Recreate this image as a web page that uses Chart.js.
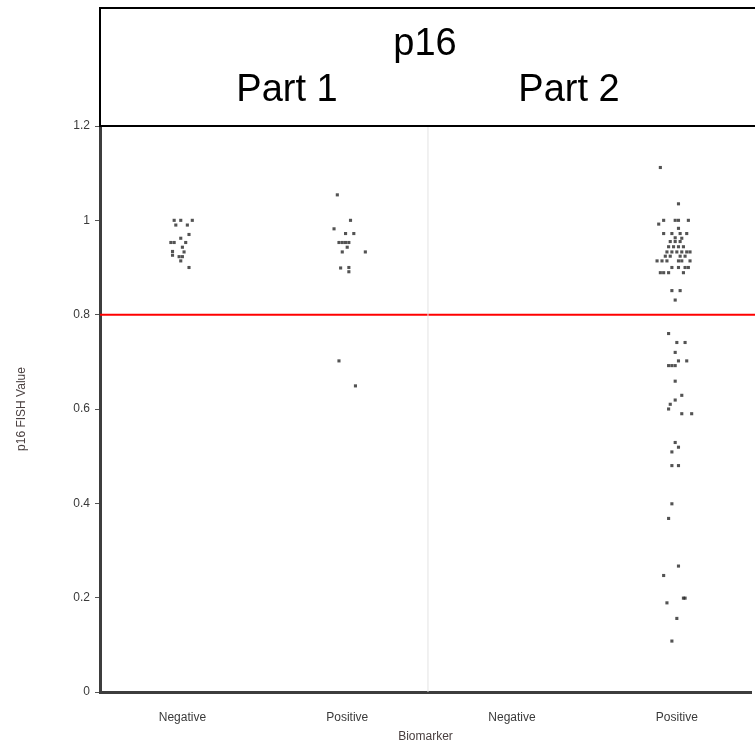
<!DOCTYPE html>
<html lang="en">
<head>
  <meta charset="UTF-8">
  <title>p16 FISH Value</title>
  <script src="https://cdn.jsdelivr.net/npm/chart.js"></script>
  <style>
    body {
      margin: 0;
      padding: 0;
      background: #fff;
      overflow: hidden;
    }
    canvas {
      display: block;
    }
  </style>
</head>
<body>
  <canvas id="fishChart" width="755" height="744"></canvas>
  <script>
    // categories along the x axis (two panels, two groups each)
    const xLabels = ["Negative", "Positive", "Negative", "Positive"];
    const xCenters = [1, 2, 3, 4];
    const yTicks = [0, 0.2, 0.4, 0.6, 0.8, 1, 1.2];
    const cutoff = 0.8;
    const panelBreak = 2.49;

    // jitter offsets (in category units) and values
    const part1NegX = [-0.05, -0.01, 0.06, -0.04, 0.03, 0.04, -0.01, -0.07, -0.05, 0.02, 0, -0.06, 0.01, -0.06, -0.02, 0, -0.01, 0.04];
    const part1NegY = [1.0, 1.0, 1.0, 0.99, 0.99, 0.97, 0.962, 0.953, 0.953, 0.953, 0.943, 0.934, 0.933, 0.926, 0.923, 0.923, 0.914, 0.9];

    const part1PosX = [-0.06, 0.02, -0.08, -0.01, 0.04, -0.05, -0.03, -0.01, 0.01, 0, -0.03, 0.11, -0.04, 0.01, 0.01, -0.05, 0.05];
    const part1PosY = [1.054, 1.0, 0.982, 0.972, 0.972, 0.953, 0.953, 0.953, 0.953, 0.943, 0.933, 0.933, 0.899, 0.9, 0.891, 0.702, 0.649];

    const part2NegX = [];
    const part2NegY = [];

    const part2PosX = [
      -0.10, 0.01, -0.08, -0.11, -0.01, 0.01, 0.07, 0.01,
      -0.08, -0.03, 0.02, 0.06, -0.01, 0.03, -0.04, -0.01, 0.02,
      -0.05, -0.02, 0.01, 0.04, -0.06, -0.03, 0, 0.03, 0.06, 0.08,
      -0.07, -0.04, 0.02, 0.05, -0.12, -0.09, -0.06, 0.01, 0.03, 0.08,
      -0.03, 0.01, 0.05, 0.07, -0.10, -0.08, -0.05, 0.04, -0.03, 0.02, -0.01,
      -0.05, 0, 0.05, -0.01, 0.01, 0.06, -0.05, -0.03, -0.01, -0.01,
      0.03, -0.01, -0.04, -0.05, 0.03, 0.09, -0.01, 0.01, -0.03, -0.03, 0.01,
      -0.03, -0.05, 0.01, -0.08, 0.04, 0.05, -0.06, 0, -0.03
    ];
    const part2PosY = [
      1.112, 1.035, 1.0, 0.992, 1.0, 1.0, 1.0, 0.983,
      0.972, 0.972, 0.972, 0.972, 0.963, 0.962, 0.955, 0.955, 0.955,
      0.944, 0.944, 0.944, 0.944, 0.933, 0.933, 0.933, 0.933, 0.933, 0.933,
      0.924, 0.924, 0.924, 0.924, 0.914, 0.914, 0.914, 0.914, 0.914, 0.914,
      0.9, 0.9, 0.9, 0.9, 0.889, 0.889, 0.889, 0.889, 0.851, 0.851, 0.831,
      0.76, 0.741, 0.741, 0.72, 0.702, 0.702, 0.692, 0.692, 0.692, 0.659,
      0.629, 0.619, 0.61, 0.6, 0.59, 0.59, 0.529, 0.519, 0.509, 0.48, 0.48,
      0.399, 0.368, 0.267, 0.247, 0.199, 0.199, 0.189, 0.156, 0.108
    ];

    const groupsX = [part1NegX, part1PosX, part2NegX, part2PosX];
    const groupsY = [part1NegY, part1PosY, part2NegY, part2PosY];

    const points = [];
    groupsX.forEach((offs, g) => {
      offs.forEach((o, i) => {
        points.push({ x: xCenters[g] + o, y: groupsY[g][i] });
      });
    });

    // facet strip above the plot
    const stripPlugin = {
      id: "strip",
      afterDraw(chart) {
        const { ctx, chartArea } = chart;
        ctx.save();
        ctx.strokeStyle = "#000";
        ctx.lineWidth = 2;
        ctx.strokeRect(chartArea.left, 8, 720, chartArea.top - 8);
        ctx.fillStyle = "#000";
        ctx.textAlign = "center";
        ctx.textBaseline = "middle";
        ctx.font = "38px 'Liberation Sans', Arial, sans-serif";
        ctx.fillText("p16", 425, 45);
        ctx.fillText("Part 1", 287, 91);
        ctx.fillText("Part 2", 569, 91);
        ctx.restore();
      }
    };

    const axisFont = { family: "'Liberation Sans', Arial, sans-serif", size: 12 };

    new Chart(document.getElementById("fishChart"), {
      type: "scatter",
      data: {
        datasets: [
          {
            type: "line",
            data: [{ x: panelBreak, y: 0 }, { x: panelBreak, y: 1.2 }],
            borderColor: "#e3e3e3",
            borderWidth: 1,
            pointRadius: 0
          },
          {
            type: "line",
            data: [{ x: 0.5, y: cutoff }, { x: 4.6, y: cutoff }],
            borderColor: "#ff0000",
            borderWidth: 2,
            pointRadius: 0,
            clip: false
          },
          {
            data: points,
            pointStyle: "rect",
            pointRadius: 2.2,
            borderWidth: 0,
            backgroundColor: "rgba(40, 40, 40, 0.8)"
          }
        ]
      },
      options: {
        responsive: false,
        animation: false,
        layout: { padding: { top: 126, left: 0, right: 0, bottom: 0 } },
        plugins: {
          legend: { display: false },
          tooltip: { enabled: false }
        },
        scales: {
          x: {
            type: "linear",
            min: 0.5,
            max: 4.45,
            afterBuildTicks: (scale) => {
              scale.ticks = xCenters.map(v => ({ value: v }));
            },
            afterFit: (scale) => { scale.height = 52; },
            grid: { display: false },
            border: { display: true, color: "#3d3d3d", width: 3 },
            ticks: {
              padding: 10,
              color: "#3a3a3a",
              font: axisFont,
              maxRotation: 0,
              autoSkip: false,
              callback: (v) => xLabels[xCenters.indexOf(v)] || ""
            },
            title: {
              display: true,
              text: "Biomarker",
              color: "#4a4040",
              font: axisFont,
              padding: { top: 6, bottom: 0 }
            }
          },
          y: {
            min: 0,
            max: 1.2,
            afterBuildTicks: (scale) => {
              scale.ticks = yTicks.map(v => ({ value: v }));
            },
            afterFit: (scale) => { scale.width = 100; },
            grid: {
              drawOnChartArea: false,
              drawTicks: true,
              tickLength: 5,
              color: "#555"
            },
            border: { display: true, color: "#3d3d3d", width: 3 },
            ticks: {
              padding: 5,
              color: "#3a3a3a",
              font: axisFont,
              callback: (v) => String(Number(v.toFixed(1)))
            },
            title: {
              display: true,
              text: "p16 FISH Value",
              color: "#4a4040",
              font: axisFont,
              padding: { top: 14, bottom: 0 }
            }
          }
        }
      },
      plugins: [stripPlugin]
    });
  </script>
</body>
</html>
